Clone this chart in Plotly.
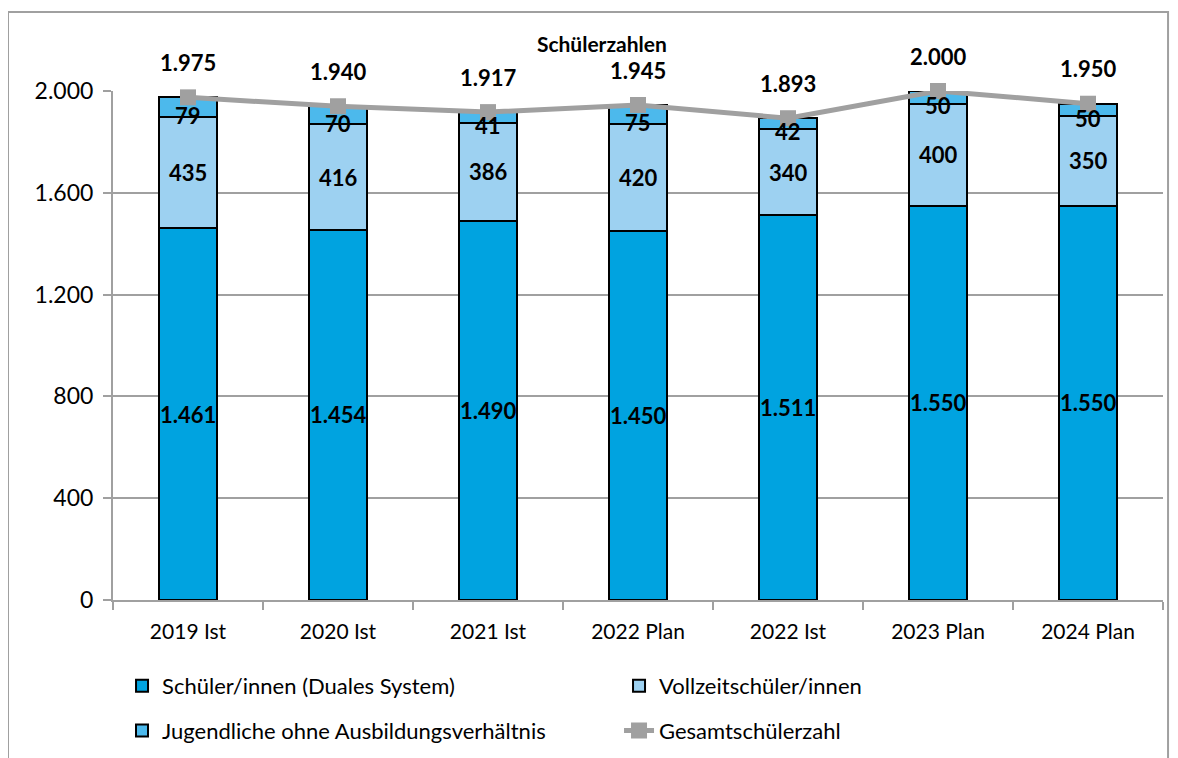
import plotly.graph_objects as go

categories = ["2019 Ist", "2020 Ist", "2021 Ist", "2022 Plan", "2022 Ist", "2023 Plan", "2024 Plan"]
duales = [1461, 1454, 1490, 1450, 1511, 1550, 1550]
vollzeit = [435, 416, 386, 420, 340, 400, 350]
jugendliche = [79, 70, 41, 75, 42, 50, 50]
gesamt = [1975, 1940, 1917, 1945, 1893, 2000, 1950]
y_ticks = [0, 400, 800, 1200, 1600, 2000]


def de(v):
    return f"{v:,}".replace(",", ".")


FONT = "Lato, Calibri, Carlito, sans-serif"
GRAY = "#A0A0A0"
LBL = dict(family=FONT, size=22, color="black", weight="bold")

fig = go.Figure()
bar_common = dict(width=0.39, marker_line=dict(color="black", width=2), hoverinfo="skip")
fig.add_bar(x=categories, y=duales, name="Schüler/innen (Duales System)",
            marker_color="#00A3E0", legend="legend", **bar_common)
fig.add_bar(x=categories, y=vollzeit, name="Vollzeitschüler/innen",
            marker_color="#9DD1F1", legend="legend", **bar_common)
fig.add_bar(x=categories, y=jugendliche, name="Jugendliche ohne Ausbildungsverhältnis",
            marker_color="#4CB9EC", legend="legend2", **bar_common)
fig.add_scatter(x=categories, y=gesamt, name="Gesamtschülerzahl", mode="lines+markers",
                line=dict(color=GRAY, width=5), marker=dict(symbol="square", size=16, color=GRAY),
                cliponaxis=False, legend="legend2")

# segment labels (drawn on top of the line, like the original)
for i, c in enumerate(categories):
    base = 0
    for series, shift in ((duales, 0), (vollzeit, 0), (jugendliche, -8)):
        v = series[i]
        fig.add_annotation(x=c, y=base + v / 2, text=de(v), showarrow=False, yshift=shift,
                           font=LBL, xanchor="center", yanchor="middle")
        base += v

# total labels above the line points
for c, v in zip(categories, gesamt):
    fig.add_annotation(x=c, y=v, text=de(v), showarrow=False, yshift=35,
                       font=LBL, xanchor="center", yanchor="middle")

# outer chart border
fig.add_shape(type="rect", xref="paper", yref="paper",
              x0=-0.1, x1=1.0048, y0=-0.34, y1=1.1552,
              line=dict(color=GRAY, width=2), fillcolor="rgba(0,0,0,0)", layer="below")

legend_common = dict(orientation="h", xanchor="left", yanchor="middle", traceorder="normal",
                     font=dict(family=FONT, size=22, color="black"),
                     entrywidth=452, entrywidthmode="pixels", bgcolor="rgba(0,0,0,0)")

fig.update_layout(
    width=1170, height=750,
    margin=dict(l=105, r=15, t=83, b=158, autoexpand=False),
    paper_bgcolor="white", plot_bgcolor="white",
    barmode="stack",
    separators=",.",
    showlegend=True,
    font=dict(family=FONT, size=22, color="black"),
    title=dict(text="<b>Schülerzahlen</b>", x=0.5076, xanchor="center",
               y=1 - 37 / 750, yanchor="middle", yref="container",
               font=dict(family=FONT, size=21, color="black")),
    legend=dict(x=0.0086, y=-0.169, **legend_common),
    legend2=dict(x=0.0086, y=-0.257, **legend_common),
    xaxis=dict(showline=True, linecolor=GRAY, linewidth=2, ticks="outside",
               tickson="boundaries", ticklen=8, tickcolor=GRAY, tickwidth=2,
               ticklabelstandoff=12,
               tickfont=dict(family=FONT, size=21, color="black"), showgrid=False),
    yaxis=dict(range=[0, 2000], tickvals=y_ticks, ticktext=[de(v) for v in y_ticks],
               showline=True, linecolor=GRAY, linewidth=2, ticks="outside", ticklen=8,
               tickcolor=GRAY, tickwidth=2, showgrid=True, gridcolor=GRAY, gridwidth=2,
               ticklabelstandoff=5,
               tickfont=dict(family=FONT, size=23, color="black"), zeroline=False),
)

fig.write_html("out.html")
